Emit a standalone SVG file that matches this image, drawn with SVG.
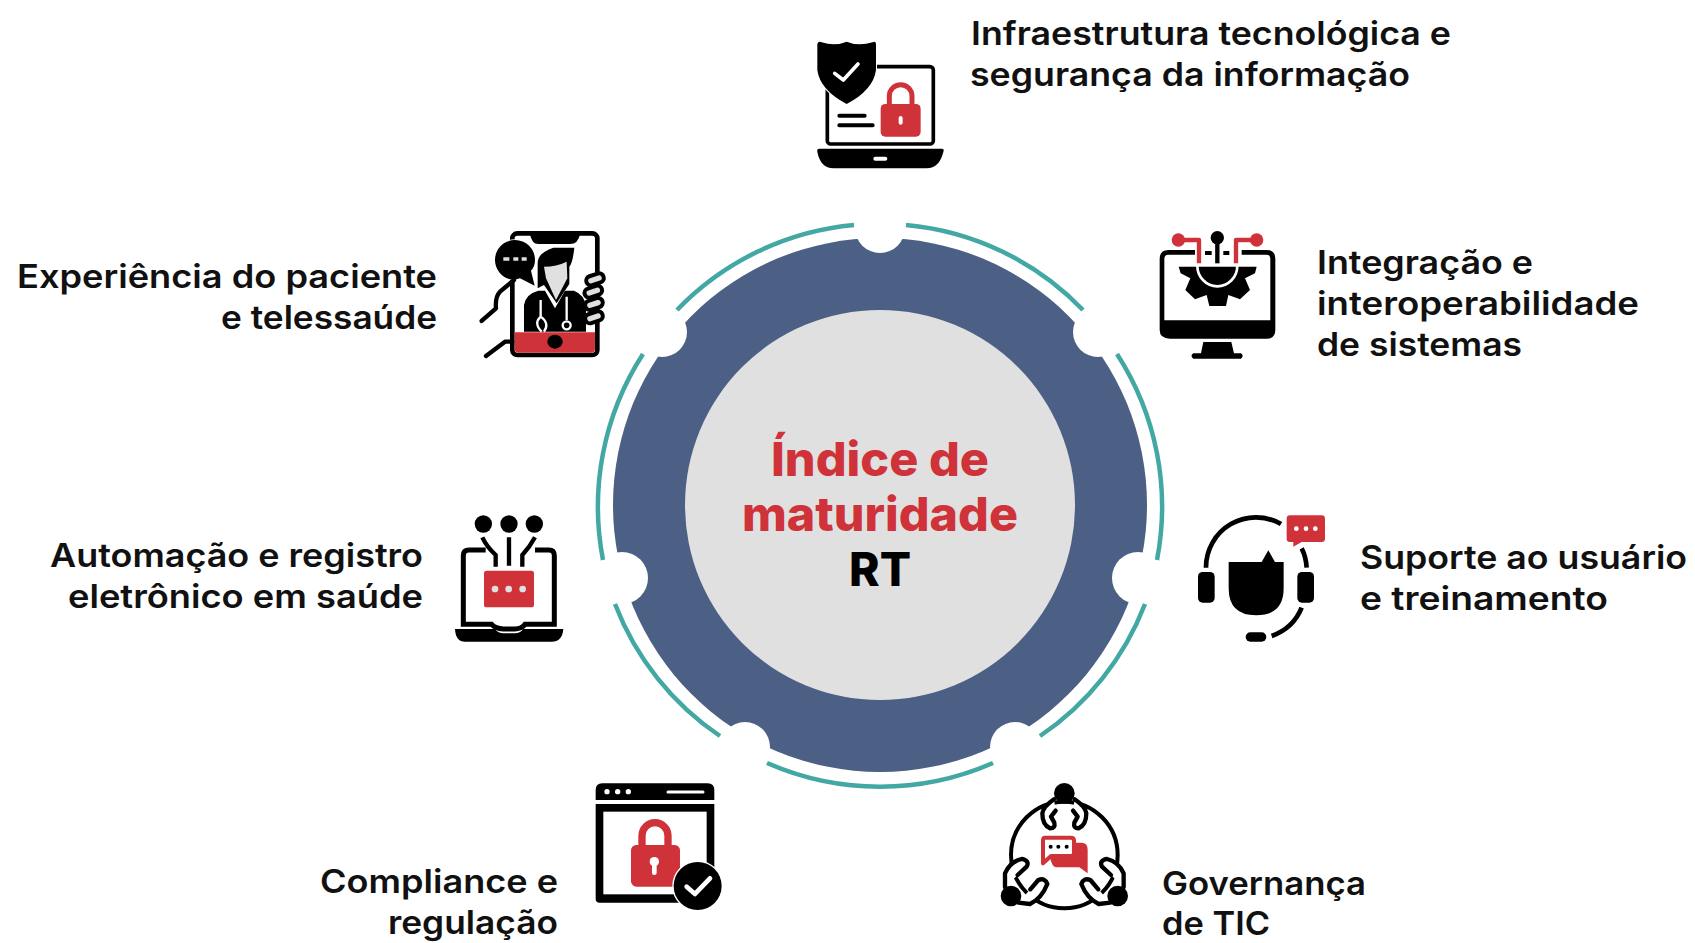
<svg xmlns="http://www.w3.org/2000/svg" width="1695" height="943" viewBox="0 0 1695 943">
<style>
.l{font-family:"Inter","Liberation Sans",sans-serif;font-weight:600;font-size:33px;fill:#111}
.e{text-anchor:end}
.c{font-family:"Inter","Liberation Sans",sans-serif;font-weight:800;font-size:47px;text-anchor:middle}
.r{fill:#cf3339}.k{fill:#000}.w{fill:#fff}
.ks{fill:none;stroke:#000;stroke-linecap:round;stroke-linejoin:round}
.rs{fill:none;stroke:#cf3339;stroke-linejoin:round}
.ws{fill:none;stroke:#fff;stroke-linecap:round;stroke-linejoin:round}
.h{fill:#fff;stroke:#000;stroke-width:13;stroke-linecap:round;stroke-linejoin:round}
</style>
<rect width="1695" height="943" fill="#fff"/>
<g id="hub">
<circle cx="880" cy="505" r="267" fill="#4c5f85"/>
<g fill="#fff">
<circle cx="880" cy="228" r="25"/><circle cx="1098" cy="332" r="25"/><circle cx="1138" cy="578" r="26"/><circle cx="1015" cy="747" r="25"/><circle cx="745" cy="747" r="25"/><circle cx="622" cy="578" r="26"/><circle cx="662" cy="332" r="25"/>
</g>
<circle cx="880" cy="505" r="195" fill="#e0e0e0"/>
<text class="c" x="880" y="476" fill="#cf3339" textLength="218" lengthAdjust="spacingAndGlyphs">Índice de</text>
<text class="c" x="880" y="531" fill="#cf3339" textLength="276" lengthAdjust="spacingAndGlyphs">maturidade</text>
<text class="c" x="880" y="586" fill="#000" textLength="62" lengthAdjust="spacingAndGlyphs">RT</text>
</g>
<g id="connectors" fill="none" stroke="#43a8a3" stroke-width="4.5">
<path d="M906,225 A281,281 0 0 1 1083,310"/>
<path d="M1117,354 A281,281 0 0 1 1157,560"/>
<path d="M1145,604 A281,281 0 0 1 1040,736"/>
<path d="M993,763 A281,281 0 0 1 767,763"/>
<path d="M720,736 A281,281 0 0 1 615,604"/>
<path d="M603,560 A281,281 0 0 1 643,354"/>
<path d="M677,310 A281,281 0 0 1 854,225"/>
</g>
<g id="node-infra">
<g transform="translate(780,20) scale(.3333)">
<rect x="142" y="140" width="318" height="232" rx="10" fill="#fff" stroke="#000" stroke-width="11"/>
<path class="k" d="M112,72Q115,62 125,67Q165,80 200,65Q235,80 278,67Q287,62 288,72V150Q280,210 200,252Q120,210 112,150Z" stroke="#fff" stroke-width="6" paint-order="stroke"/>
<path class="ws" stroke-width="11" d="M164,160L190,180L234,132"/>
<path class="ks" stroke-width="12" d="M178,287H254M178,316H278"/>
<rect class="r" x="302" y="252" width="120" height="98" rx="14"/>
<path class="rs" stroke-width="15" d="M328,258V228A34,34 0 0 1 396,228V258"/>
<rect class="w" x="356" y="288" width="12" height="26" rx="6"/>
<path class="k" d="M118,386H485Q494,386 490,396Q478,445 440,445H160Q122,445 112,396Q110,386 118,386Z"/>
<rect class="w" x="280" y="410" width="42" height="12" rx="6"/>
</g>
<text class="l" x="971" y="45" textLength="480" lengthAdjust="spacingAndGlyphs">Infraestrutura tecnológica e</text>
<text class="l" x="970" y="86" textLength="440" lengthAdjust="spacingAndGlyphs">segurança da informação</text>
</g>
<g id="node-integracao">
<g transform="translate(1140,215) scale(.3333)">
<path class="k" d="M165,105H85Q59,105 59,132V345Q59,371 90,371H380Q406,371 406,345V132Q406,105 380,105H305V119H380Q391,119 391,132V316H73V132Q73,119 85,119H165Z"/>
<path class="k" d="M190,381H274L282,415H303Q313,422 303,431H160Q149,422 160,415H183Z"/>
<path class="k" d="M116,155H350L345,175L315,190L330,225L300,253L265,240L258,273H208L200,240L165,253L136,225L151,190L122,175Z"/>
<path class="ws" stroke-width="8" d="M172,152A60,62 0 0 0 292,152"/>
<path class="rs" stroke-width="13" d="M115,75H177V145M350,75H288V145"/>
<circle class="r" cx="115" cy="75" r="20"/><circle class="r" cx="350" cy="75" r="20"/>
<circle class="k" cx="232" cy="68" r="20"/>
<path d="M232,68V145" stroke="#000" stroke-width="13"/>
<path d="M195,114H215M250,114H268" stroke="#000" stroke-width="12"/>
</g>
<text class="l" x="1317" y="274" textLength="216" lengthAdjust="spacingAndGlyphs">Integração e</text>
<text class="l" x="1317" y="315" textLength="322" lengthAdjust="spacingAndGlyphs">interoperabilidade</text>
<text class="l" x="1317" y="356" textLength="205" lengthAdjust="spacingAndGlyphs">de sistemas</text>
</g>
<g id="node-suporte">
<g transform="translate(1180,500) scale(.3333)">
<path d="M78,203A150,150 0 0 1 303,72M365,145Q378,170 380,203M365,323Q340,385 275,408" fill="none" stroke="#000" stroke-width="14"/>
<rect class="k" x="54" y="216" width="50" height="92" rx="14"/>
<rect class="k" x="352" y="216" width="50" height="92" rx="14"/>
<rect class="k" x="197" y="397" width="62" height="28" rx="14"/>
<path class="k" d="M146,186H245L265,151L285,186H311V265Q311,346 228,346Q146,346 146,265Z"/>
<path class="r" d="M330,46H425Q435,46 435,56V116Q435,126 425,126H365L340,140V126H330Q320,126 320,116V56Q320,46 330,46Z"/>
<g class="w"><circle cx="349" cy="86" r="7"/><circle cx="378" cy="86" r="7"/><circle cx="406" cy="86" r="7"/></g>
</g>
<text class="l" x="1360" y="569" textLength="327" lengthAdjust="spacingAndGlyphs">Suporte ao usuário</text>
<text class="l" x="1360" y="610" textLength="248" lengthAdjust="spacingAndGlyphs">e treinamento</text>
</g>
<g id="node-governanca">
<g transform="translate(985,770) scale(.3333)">
<circle cx="238" cy="255" r="160" fill="none" stroke="#000" stroke-width="12"/>
<path class="h" d="M207,88Q175,110 172,130Q172,165 195,175Q212,175 208,158L198,140L212,122"/>
<path class="h" d="M269,88Q301,110 304,130Q304,165 281,175Q264,175 268,158L278,140L264,122"/>
<path class="h" d="M60,352V310Q75,275 110,267Q135,272 125,290L98,315"/>
<path class="h" d="M100,398L135,402Q170,385 187,342Q180,322 160,330L136,358"/>
<path class="h" d="M416,352V310Q401,275 366,267Q341,272 351,290L378,315"/>
<path class="h" d="M376,398L341,402Q306,385 289,342Q296,322 316,330L340,358"/>
<g class="k"><circle cx="238" cy="70" r="31"/><circle cx="78" cy="378" r="31"/><circle cx="398" cy="378" r="31"/></g>
<path class="r" d="M205,218H290Q308,218 308,240V310L283,292H215Q200,292 195,260Z"/>
<path d="M180,203H258Q267,203 267,212V250Q267,258 258,258H198L174,280V212Q174,203 180,203Z" fill="#fff" stroke="#cf3339" stroke-width="12" stroke-linejoin="round"/>
<g class="k"><circle cx="197" cy="230" r="6"/><circle cx="220" cy="230" r="6"/><circle cx="245" cy="230" r="6"/></g>
</g>
<text class="l" x="1162" y="895" textLength="204" lengthAdjust="spacingAndGlyphs">Governança</text>
<text class="l" x="1162" y="935" textLength="108" lengthAdjust="spacingAndGlyphs">de TIC</text>
</g>
<g id="node-compliance">
<g transform="translate(585,770) scale(.3333)">
<path class="k" d="M32,60Q32,40 52,40H368Q388,40 388,60V90H32Z"/>
<g class="w"><circle cx="66" cy="65" r="8"/><circle cx="98" cy="65" r="8"/><circle cx="130" cy="65" r="8"/></g>
<path class="ws" stroke-width="9" d="M249,66H354"/>
<path class="k" d="M32,102H388V386Q388,398 376,398H44Q32,398 32,386Z"/>
<rect class="w" x="55" y="125" width="310" height="248"/>
<rect class="r" x="138" y="225" width="147" height="125" rx="16"/>
<path class="rs" stroke-width="22" d="M171,232V197A39,39 0 0 1 249,197V232"/>
<circle class="w" cx="208" cy="275" r="14"/><rect class="w" x="201" y="275" width="14" height="40" rx="7"/>
<circle class="k" cx="338" cy="348" r="72" stroke="#fff" stroke-width="8" paint-order="stroke"/>
<path class="ws" stroke-width="14" d="M305,350L330,372L375,325"/>
</g>
<text class="l e" x="558" y="893" textLength="238" lengthAdjust="spacingAndGlyphs">Compliance e</text>
<text class="l e" x="558" y="934" textLength="170" lengthAdjust="spacingAndGlyphs">regulação</text>
</g>
<g id="node-automacao">
<g transform="translate(445,505) scale(.3333)">
<g class="k"><circle cx="115" cy="57" r="26"/><circle cx="192" cy="57" r="26"/><circle cx="268" cy="57" r="26"/></g>
<path d="M192,97V182M112,97Q125,125 152,150V185M270,97Q255,125 232,150V185" fill="none" stroke="#000" stroke-width="13"/>
<path d="M122,135H72Q55,135 55,152V358H140Q150,370 175,372H210Q232,370 240,358H328V152Q328,135 312,135H270" fill="none" stroke="#000" stroke-width="15"/>
<path class="k" d="M30,372H150Q160,385 175,385H210Q225,385 235,372H355Q352,410 320,410H60Q32,410 30,372Z"/>
<rect class="r" x="117" y="197" width="150" height="110" rx="8"/>
<g fill="#e0e0e0"><circle cx="150" cy="252" r="10"/><circle cx="191" cy="252" r="10"/><circle cx="233" cy="252" r="10"/></g>
</g>
<text class="l e" x="423" y="567" textLength="373" lengthAdjust="spacingAndGlyphs">Automação e registro</text>
<text class="l e" x="423" y="608" textLength="355" lengthAdjust="spacingAndGlyphs">eletrônico em saúde</text>
</g>
<g id="node-experiencia">
<g transform="translate(470,220) scale(.3333)">
<rect x="127" y="40" width="255" height="365" rx="15" fill="#fff" stroke="#000" stroke-width="14"/>
<path class="k" d="M180,42H330Q325,72 300,72H205Q185,72 180,42Z"/>
<path class="r" d="M134,337H375V386Q375,398 363,398H146Q134,398 134,386Z"/>
<ellipse class="k" cx="255" cy="365" rx="23" ry="21"/>
<path class="k" d="M162,335V255Q167,222 205,212L225,212L255,265L285,212L312,212Q345,225 348,260V335Z"/>
<path class="k" d="M203,205V130Q203,98 250,83H313Q308,130 298,140V192L260,250L222,195Z"/>
<path fill="#e0e0e0" d="M222,140Q260,140 290,125L292,175L258,240L228,175Z"/>
<path d="M215,335Q190,310 212,290Q240,310 222,335M212,290V240M290,230V300" fill="none" stroke="#fff" stroke-width="7"/>
<circle cx="290" cy="316" r="12" fill="#000" stroke="#fff" stroke-width="7"/>
<path class="k" d="M75,120A60,60 0 0 1 195,120Q195,140 183,152L194,197L150,175Q135,180 120,178A60,60 0 0 1 75,120Z" stroke="#fff" stroke-width="4" paint-order="stroke"/>
<path d="M100,117H118M130,117H145M155,117H170" stroke="#e0e0e0" stroke-width="11"/>
<g fill="#e0e0e0" stroke="#000" stroke-width="12">
<rect x="348" y="164" width="54" height="28" rx="14" transform="rotate(-18 375 178)"/>
<rect x="343" y="201" width="54" height="28" rx="14" transform="rotate(-18 370 215)"/>
<rect x="345" y="238" width="54" height="28" rx="14" transform="rotate(-18 372 252)"/>
<rect x="345" y="278" width="54" height="28" rx="14" transform="rotate(-18 372 292)"/>
</g>
<path class="ks" stroke-width="13" d="M132,180L90,215Q75,230 78,265L35,303M127,365H105L48,408"/>
</g>
<text class="l e" x="437" y="288" textLength="420" lengthAdjust="spacingAndGlyphs">Experiência do paciente</text>
<text class="l e" x="437" y="329" textLength="216" lengthAdjust="spacingAndGlyphs">e telessaúde</text>
</g>
</svg>
